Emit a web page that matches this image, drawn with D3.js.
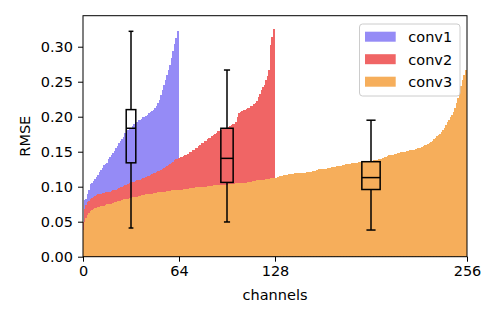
<!DOCTYPE html>
<html>
<head>
<meta charset="utf-8">
<script src="https://cdn.jsdelivr.net/npm/d3@7"></script>
<style>
  html, body { margin: 0; padding: 0; background: #fff; }
  svg { display: block; font-family: "DejaVu Sans", sans-serif; }
</style>
</head>
<body>
<svg id="chart" width="498" height="322"></svg>
<script>
// ---------------- data ----------------
const seriesNames = ["conv1", "conv2", "conv3"];

const conv1 = [
  0.041, 0.081, 0.083, 0.090, 0.095, 0.104, 0.106, 0.108, 0.111, 0.114,
  0.117, 0.121, 0.124, 0.127, 0.131, 0.133, 0.1345, 0.140, 0.143, 0.146,
  0.148, 0.151, 0.155, 0.158, 0.162, 0.165, 0.168, 0.171, 0.177, 0.180,
  0.181, 0.183, 0.184, 0.187, 0.189, 0.191, 0.193, 0.195, 0.196, 0.197,
  0.199, 0.200, 0.201, 0.203, 0.205, 0.207, 0.208, 0.2095, 0.212, 0.215,
  0.219, 0.224, 0.231, 0.238, 0.245, 0.252, 0.260, 0.267, 0.274, 0.284,
  0.294, 0.304, 0.313, 0.322
];

const conv2 = [
  0.0496, 0.068, 0.074, 0.078, 0.080, 0.082, 0.084, 0.086, 0.087, 0.088,
  0.089, 0.090, 0.090, 0.091, 0.091, 0.092, 0.092, 0.093, 0.093, 0.094,
  0.095, 0.095, 0.096, 0.097, 0.098, 0.099, 0.100, 0.101, 0.102, 0.103,
  0.104, 0.105, 0.1065, 0.107, 0.107, 0.108, 0.109, 0.110, 0.110, 0.111,
  0.112, 0.113, 0.114, 0.115, 0.116, 0.117, 0.118, 0.119, 0.120, 0.121,
  0.122, 0.123, 0.124, 0.126, 0.127, 0.128, 0.129, 0.131, 0.132, 0.134,
  0.136, 0.138, 0.139, 0.140, 0.141, 0.142, 0.143, 0.144, 0.145, 0.146,
  0.147, 0.149, 0.150, 0.152, 0.153, 0.155, 0.156, 0.158, 0.160, 0.162,
  0.163, 0.165, 0.166, 0.168, 0.169, 0.170, 0.172, 0.174, 0.176, 0.177,
  0.179, 0.180, 0.181, 0.182, 0.183, 0.1833, 0.184, 0.186, 0.187, 0.188,
  0.189, 0.190, 0.192, 0.200, 0.205, 0.207, 0.208, 0.209, 0.210, 0.211,
  0.212, 0.213, 0.215, 0.216, 0.218, 0.220, 0.222, 0.228, 0.233, 0.238,
  0.242, 0.246, 0.252, 0.258, 0.2667, 0.302, 0.314, 0.326
];

const conv3 = [
  0.0381, 0.050, 0.055, 0.060, 0.063, 0.066, 0.067, 0.068, 0.069, 0.070,
  0.071, 0.071, 0.072, 0.073, 0.073, 0.074, 0.075, 0.075, 0.076, 0.076,
  0.077, 0.078, 0.078, 0.079, 0.080, 0.080, 0.081, 0.082, 0.082, 0.083,
  0.083, 0.084, 0.084, 0.085, 0.085, 0.086, 0.086, 0.087, 0.087, 0.088,
  0.088, 0.088, 0.089, 0.089, 0.090, 0.090, 0.090, 0.091, 0.091, 0.091,
  0.092, 0.092, 0.092, 0.093, 0.093, 0.093, 0.094, 0.094, 0.094, 0.095,
  0.095, 0.095, 0.095, 0.096, 0.096, 0.096, 0.096, 0.097, 0.097, 0.097,
  0.097, 0.098, 0.098, 0.098, 0.098, 0.099, 0.099, 0.099, 0.099, 0.100,
  0.100, 0.100, 0.100, 0.101, 0.101, 0.101, 0.101, 0.102, 0.102, 0.102,
  0.102, 0.102, 0.103, 0.103, 0.103, 0.103, 0.103, 0.104, 0.104, 0.104,
  0.104, 0.104, 0.105, 0.105, 0.105, 0.105, 0.106, 0.106, 0.106, 0.106,
  0.107, 0.107, 0.107, 0.108, 0.108, 0.108, 0.109, 0.109, 0.109, 0.110,
  0.110, 0.110, 0.111, 0.111, 0.111, 0.112, 0.112, 0.113, 0.113, 0.113,
  0.114, 0.115, 0.116, 0.116, 0.117, 0.117, 0.117, 0.118, 0.118, 0.118,
  0.118, 0.119, 0.119, 0.119, 0.119, 0.120, 0.120, 0.120, 0.120, 0.121,
  0.121, 0.121, 0.121, 0.122, 0.122, 0.123, 0.124, 0.125, 0.125, 0.125,
  0.126, 0.126, 0.126, 0.127, 0.127, 0.127, 0.128, 0.128, 0.128, 0.129,
  0.129, 0.130, 0.130, 0.131, 0.131, 0.132, 0.132, 0.133, 0.133, 0.134,
  0.134, 0.134, 0.1345, 0.1345, 0.135, 0.135, 0.135, 0.135, 0.1355, 0.1355,
  0.1356, 0.1357, 0.1358, 0.137, 0.138, 0.138, 0.138, 0.139, 0.139, 0.140,
  0.141, 0.142, 0.143, 0.144, 0.145, 0.145, 0.146, 0.146, 0.147, 0.147,
  0.148, 0.148, 0.149, 0.149, 0.150, 0.150, 0.151, 0.151, 0.152, 0.152,
  0.153, 0.153, 0.154, 0.155, 0.155, 0.156, 0.157, 0.158, 0.159, 0.160,
  0.161, 0.162, 0.164, 0.166, 0.168, 0.170, 0.172, 0.174, 0.176, 0.178,
  0.181, 0.184, 0.188, 0.192, 0.195, 0.199, 0.203, 0.207, 0.213, 0.219,
  0.227, 0.236, 0.244, 0.252, 0.260, 0.267
];

const boxPositions = [32, 96, 192];
const xTicks = [0, 64, 128, 256];
const yTicks = [0.00, 0.05, 0.10, 0.15, 0.20, 0.25, 0.30];

// ---------------- styling / layout ----------------
const colors = ["#958bf6", "#f06565", "#f6ae5b"];
const boxWidthsCh = [6.4, 8.2, 12.2];
const W = 498, H = 322;
const plot = { left: 83, right: 467, top: 15.7, bottom: 256.7 };
const fontSize = 14.5;

const svg = d3.select("#chart");
const x = d3.scaleLinear().domain([0, 256]).range([plot.left, plot.right]);
const yMax = 0.3443;
const y = d3.scaleLinear().domain([0, yMax]).range([plot.bottom, plot.top]);

svg.append("defs").append("clipPath").attr("id", "clip")
  .append("rect")
  .attr("x", plot.left).attr("y", plot.top)
  .attr("width", plot.right - plot.left).attr("height", plot.bottom - plot.top);

const barsG = svg.append("g").attr("clip-path", "url(#clip)")
  .attr("shape-rendering", "crispEdges");
const allSeries = [conv1, conv2, conv3];
const barW = 0.95;
const seamOverlap = 0.6; // px, hides seams between neighbouring bars
allSeries.forEach((vals, s) => {
  barsG.append("g").selectAll("rect").data(vals).join("rect")
    .attr("x", (d, i) => x(i - barW / 2))
    .attr("width", x(barW) - x(0) + seamOverlap)
    .attr("y", d => y(d))
    .attr("height", d => y(0) - y(d))
    .attr("fill", colors[s]);
});

// box plots computed from the data
function boxStats(vals) {
  const v = vals.slice().sort(d3.ascending);
  const q1 = d3.quantile(v, 0.25), med = d3.quantile(v, 0.5), q3 = d3.quantile(v, 0.75);
  const iqr = q3 - q1;
  const hiLim = q3 + 1.5 * iqr + 1e-6, loLim = q1 - 1.5 * iqr - 1e-6;
  const hi = d3.max(v.filter(d => d <= hiLim));
  const lo = d3.min(v.filter(d => d >= loLim));
  return { q1, med, q3, lo, hi };
}
const boxG = svg.append("g").attr("fill", "none").attr("stroke", "#000").attr("stroke-width", 1.5);
allSeries.forEach((vals, s) => {
  const st = boxStats(vals);
  const cx = x(boxPositions[s]);
  const bw = x(boxWidthsCh[s]) - x(0);
  const cw = bw / 2;
  const g = boxG.append("g");
  g.append("rect").attr("x", cx - bw / 2).attr("width", bw)
    .attr("y", y(st.q3)).attr("height", y(st.q1) - y(st.q3));
  g.append("line").attr("x1", cx - bw / 2).attr("x2", cx + bw / 2)
    .attr("y1", y(st.med)).attr("y2", y(st.med));
  g.append("line").attr("x1", cx).attr("x2", cx).attr("y1", y(st.q3)).attr("y2", y(st.hi));
  g.append("line").attr("x1", cx).attr("x2", cx).attr("y1", y(st.q1)).attr("y2", y(st.lo));
  g.append("line").attr("x1", cx - cw / 2).attr("x2", cx + cw / 2).attr("y1", y(st.hi)).attr("y2", y(st.hi));
  g.append("line").attr("x1", cx - cw / 2).attr("x2", cx + cw / 2).attr("y1", y(st.lo)).attr("y2", y(st.lo));
});

// axes
const xAxis = d3.axisBottom(x).tickValues(xTicks).tickFormat(d3.format("d")).tickSize(5).tickPadding(4);
const yAxis = d3.axisLeft(y).tickValues(yTicks).tickFormat(d3.format(".2f")).tickSize(5).tickPadding(5);
const gx = svg.append("g").attr("transform", `translate(0,${plot.bottom})`).call(xAxis);
const gy = svg.append("g").attr("transform", `translate(${plot.left},0)`).call(yAxis);
[gx, gy].forEach(g => {
  g.select(".domain").remove();
  g.selectAll(".tick line").attr("stroke", "#000").attr("stroke-width", 1);
  g.selectAll(".tick text").attr("fill", "#000").attr("font-size", fontSize)
    .attr("font-family", "DejaVu Sans, sans-serif");
});

// frame
svg.append("rect")
  .attr("x", plot.left).attr("y", plot.top)
  .attr("width", plot.right - plot.left).attr("height", plot.bottom - plot.top)
  .attr("fill", "none").attr("stroke", "#000").attr("stroke-width", 1);

// axis labels
svg.append("text").attr("x", (plot.left + plot.right) / 2).attr("y", 300)
  .attr("text-anchor", "middle").attr("font-size", fontSize).text("channels");
svg.append("text")
  .attr("transform", `translate(30,${(plot.top + plot.bottom) / 2}) rotate(-90)`)
  .attr("text-anchor", "middle").attr("font-size", fontSize).text("RMSE");

// legend
const leg = svg.append("g");
leg.append("rect").attr("x", 359.5).attr("y", 24).attr("width", 100.5).attr("height", 72)
  .attr("rx", 3).attr("fill", "#fff").attr("fill-opacity", 0.8)
  .attr("stroke", "#cccccc").attr("stroke-width", 1);
seriesNames.forEach((name, i) => {
  const cy = 36.7 + i * 22.5;
  leg.append("rect").attr("x", 365).attr("y", cy - 5).attr("width", 30.7).attr("height", 10)
    .attr("fill", colors[i]);
  leg.append("text").attr("x", 408.3).attr("y", cy + 5.5).attr("font-size", fontSize).text(name);
});
</script>
</body>
</html>
